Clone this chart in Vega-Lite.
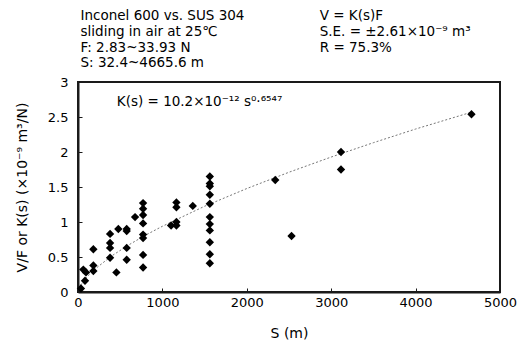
{
  "$schema": "https://vega.github.io/schema/vega-lite/v6.json",
  "width": 422,
  "height": 210,
  "autosize": "none",
  "padding": {"left": 78, "top": 82, "right": 19, "bottom": 55},
  "background": "white",
  "config": {
    "font": "DejaVu Sans",
    "view": {"stroke": "#1a1a1a", "strokeWidth": 2},
    "axis": {"grid": false, "domain": true, "domainColor": "#1a1a1a", "domainWidth": 2, "tickColor": "#1a1a1a", "tickWidth": 1, "tickSize": -4, "labelFlush": false, "labelOverlap": false, "labelColor": "black", "titleColor": "black", "labelFontSize": 13, "titleFontSize": 14, "titleFontWeight": "normal", "labelFont": "DejaVu Sans", "titleFont": "DejaVu Sans"}
  },
  "datasets": {
    "pts": [
      {"s": 35, "v": 0.05}, {"s": 83, "v": 0.16}, {"s": 63, "v": 0.32}, {"s": 95, "v": 0.28},
      {"s": 182, "v": 0.30}, {"s": 182, "v": 0.38}, {"s": 182, "v": 0.61},
      {"s": 380, "v": 0.49}, {"s": 380, "v": 0.63}, {"s": 380, "v": 0.70}, {"s": 380, "v": 0.83},
      {"s": 455, "v": 0.28}, {"s": 478, "v": 0.90},
      {"s": 577, "v": 0.46}, {"s": 577, "v": 0.63}, {"s": 577, "v": 0.87}, {"s": 577, "v": 0.90},
      {"s": 676, "v": 1.07},
      {"s": 771, "v": 0.35}, {"s": 771, "v": 0.53}, {"s": 771, "v": 0.77}, {"s": 771, "v": 0.82}, {"s": 771, "v": 0.98}, {"s": 771, "v": 1.10}, {"s": 771, "v": 1.19}, {"s": 771, "v": 1.27},
      {"s": 1103, "v": 0.95}, {"s": 1166, "v": 1.0}, {"s": 1166, "v": 0.95}, {"s": 1166, "v": 1.21}, {"s": 1166, "v": 1.28},
      {"s": 1360, "v": 1.23},
      {"s": 1562, "v": 1.65}, {"s": 1562, "v": 1.55}, {"s": 1562, "v": 1.51}, {"s": 1562, "v": 1.39}, {"s": 1562, "v": 1.26}, {"s": 1562, "v": 1.07}, {"s": 1562, "v": 0.97}, {"s": 1562, "v": 0.88}, {"s": 1562, "v": 0.71}, {"s": 1562, "v": 0.54}, {"s": 1562, "v": 0.41},
      {"s": 2337, "v": 1.60}, {"s": 2530, "v": 0.80}, {"s": 3116, "v": 2.0}, {"s": 3116, "v": 1.75}, {"s": 4662, "v": 2.54}
    ],
    "fit": [
      {"s": 32, "v": 0.099}, {"s": 100, "v": 0.208}, {"s": 200, "v": 0.327}, {"s": 400, "v": 0.516},
      {"s": 600, "v": 0.672}, {"s": 800, "v": 0.812}, {"s": 1000, "v": 0.939}, {"s": 1500, "v": 1.225},
      {"s": 2000, "v": 1.478}, {"s": 2500, "v": 1.711}, {"s": 3000, "v": 1.928}, {"s": 3500, "v": 2.133},
      {"s": 4000, "v": 2.328}, {"s": 4665, "v": 2.57}
    ],
    "notes": [
      {"s": 30, "v": 3.95, "t": "Inconel 600 vs. SUS 304"},
      {"s": 30, "v": 3.72, "t": "sliding in air at 25℃"},
      {"s": 30, "v": 3.49, "t": "F: 2.83~33.93 N"},
      {"s": 30, "v": 3.265, "t": "S: 32.4~4665.6 m"},
      {"s": 2864, "v": 3.95, "t": "V = K(s)F"},
      {"s": 2864, "v": 3.72, "t": "S.E. = ±2.61×10⁻⁹ m³"},
      {"s": 2864, "v": 3.49, "t": "R = 75.3%"},
      {"s": 460, "v": 2.72, "t": "K(s) = 10.2×10⁻¹² s⁰·⁶⁵⁴⁷"}
    ]
  },
  "layer": [
    {
      "data": {"name": "fit"},
      "mark": {"type": "line", "color": "#777", "strokeWidth": 1, "strokeDash": [2, 2]},
      "encoding": {
        "x": {"field": "s", "type": "quantitative", "scale": {"domain": [0, 5000], "nice": false},
              "axis": {"title": "S (m)", "values": [0, 1000, 2000, 3000, 4000, 5000], "tickCount": 20, "format": "d", "labelPadding": 8, "titlePadding": 17}},
        "y": {"field": "v", "type": "quantitative", "scale": {"domain": [0, 3], "nice": false},
              "axis": {"title": "V/F or K(s) (×10⁻⁹ m³/N)", "values": [0, 0.5, 1, 1.5, 2, 2.5, 3], "tickCount": 20, "format": ".2~f", "labelPadding": 14, "titlePadding": 18}}
      }
    },
    {
      "data": {"values": [{}]},
      "mark": {"type": "rect", "fill": null, "fillOpacity": 0, "stroke": "#1a1a1a", "strokeWidth": 2},
      "encoding": {
        "x": {"datum": 0, "type": "quantitative"},
        "x2": {"datum": 5000},
        "y": {"datum": 0, "type": "quantitative"},
        "y2": {"datum": 3}
      }
    },
    {
      "data": {"name": "pts"},
      "mark": {"type": "point", "shape": "diamond", "filled": true, "color": "black", "opacity": 1, "size": 70},
      "encoding": {
        "x": {"field": "s", "type": "quantitative"},
        "y": {"field": "v", "type": "quantitative"}
      }
    },
    {
      "data": {"name": "notes"},
      "mark": {"type": "text", "align": "left", "baseline": "middle", "fontSize": 13.5, "color": "black", "font": "DejaVu Sans"},
      "encoding": {
        "x": {"field": "s", "type": "quantitative"},
        "y": {"field": "v", "type": "quantitative"},
        "text": {"field": "t"}
      }
    }
  ]
}
